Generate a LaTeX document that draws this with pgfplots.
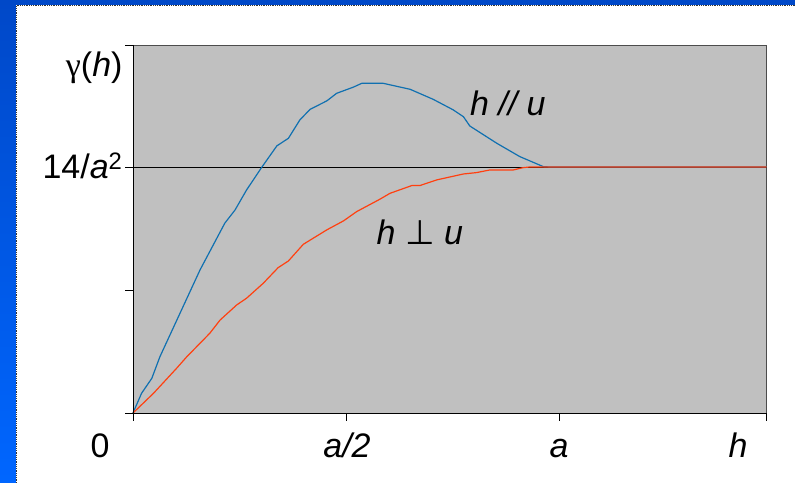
\documentclass[border=0pt]{standalone}
\usepackage{pgfplots}
\pgfplotsset{compat=1.18}
\usepackage{fontspec}
\setmainfont{Liberation Sans}
\newfontfamily\dejavu{DejaVu Sans}
\newfontfamily\lserif{Liberation Serif}
\definecolor{bgray}{HTML}{C0C0C0}
\definecolor{lblue}{HTML}{1070B0}
\definecolor{lred}{HTML}{FF4010}
\definecolor{frtop}{HTML}{0048C8}
\definecolor{frbot}{HTML}{0066FF}
\newcommand{\bigf}{\fontsize{34bp}{40bp}\selectfont}
\begin{document}
\begin{tikzpicture}[x=1bp,y=1bp, every node/.style={font=\bigf}]
% background frame
\useasboundingbox (0,0) rectangle (795,483);
\fill[frtop] (0,478) rectangle (795,483);
\shade[top color=frtop, bottom color=frbot] (0,0) rectangle (16,483);
\fill[white] (16,0) rectangle (795,478);
\draw[black!80, densely dotted, line width=0.8bp] (16.4,0) -- (16.4,477.6) -- (795,477.6);
\begin{axis}[
  at={(133bp,70bp)}, anchor=south west,
  scale only axis, width=633.5bp, height=368bp,
  xmin=0, xmax=1.484, ymin=0, ymax=20.94,
  xtick={0,0.5,1,1.484}, ytick={0,7,14,20.94},
  xticklabels={}, yticklabels={},
  xtick pos=bottom, ytick pos=left,
  tick align=outside, major tick length=8bp,
  tick style={black, line width=0.9bp},
  axis line style={gray!60!black, line width=0.8bp},
  axis background/.style={fill=bgray},
  clip=false,
]
\draw[black, line width=0.9bp] (axis cs:0,14) -- (axis cs:1.484,14);
\addplot[lblue, line width=1.2bp] coordinates {
(0,0) (0.020,1.12) (0.044,1.97) (0.063,3.20) (0.110,5.67) (0.157,8.14)
(0.215,10.80) (0.239,11.55) (0.266,12.69) (0.301,13.96) (0.337,15.20)
(0.364,15.63) (0.391,16.68) (0.415,17.28) (0.454,17.76) (0.477,18.19)
(0.516,18.54) (0.536,18.76) (0.586,18.76) (0.649,18.42) (0.703,17.85)
(0.750,17.25) (0.774,16.86) (0.789,16.33) (0.852,15.35) (0.906,14.59)
(0.961,14.02) (0.975,14) (1.484,14)
};
\addplot[lred, line width=1.2bp] coordinates {
(0,0) (0.048,1.12) (0.102,2.54) (0.126,3.20) (0.180,4.54) (0.204,5.29)
(0.243,6.15) (0.266,6.53) (0.305,7.38) (0.340,8.27) (0.364,8.65)
(0.399,9.60) (0.454,10.42) (0.493,10.93) (0.524,11.46) (0.578,12.16)
(0.602,12.50) (0.653,12.94) (0.672,12.94) (0.711,13.26) (0.774,13.60)
(0.805,13.68) (0.836,13.83) (0.891,13.83) (0.914,13.96) (0.93,14) (1.484,14)
};
\draw[black, line width=0.9bp] (rel axis cs:0,1) -- (rel axis cs:0,0) -- (rel axis cs:1,0);
\node[font=\bigf] at (axis cs:0.878,17.64) {\textit{h // u}};
\node[font=\bigf] at (axis cs:0.672,10.3) {\textit{h} {\dejavu ⊥} \textit{u}};
\end{axis}
% tick labels
\node[anchor=base] at (100,25) {0};
\node[anchor=base] at (347,25) {\textit{a/2}};
\node[anchor=base] at (559,25) {\textit{a}};
\node[anchor=base] at (738,25) {\textit{h}};
\node[anchor=base east] at (126,406) {{\lserif γ}(\textit{h})};
\node[anchor=base east] at (126,304) {14/\textit{a}\textsuperscript{2}};
\end{tikzpicture}
\end{document}
